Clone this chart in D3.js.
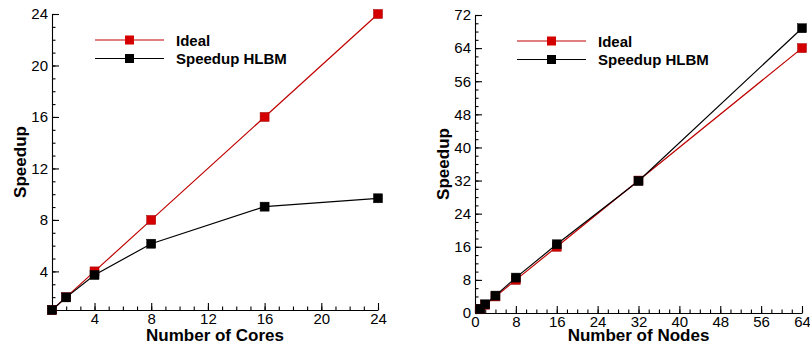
<!DOCTYPE html>
<html>
<head>
<meta charset="utf-8">
<script src="https://cdn.jsdelivr.net/npm/d3@7"></script>
<style>
  body { margin: 0; background: #fff; }
  svg { display: block; }
  .tick text { font-family: "Liberation Sans", Arial, sans-serif; font-size: 15px; fill: #000; }
  .title { font-family: "Liberation Sans", Arial, sans-serif; font-weight: bold; font-size: 17px; fill: #000; }
  .leg { font-family: "Liberation Sans", Arial, sans-serif; font-weight: bold; font-size: 15px; fill: #000; }
</style>
</head>
<body>
<svg id="viz" width="810" height="347"></svg>
<script>
// left panel: cores
let cores = [1, 2, 4, 8, 16, 24];
let cores_ideal = [1, 2, 4, 8, 16, 24];
let cores_hlbm = [1, 1.98, 3.72, 6.15, 9.03, 9.68];
let cores_ticks = [4, 8, 12, 16, 20, 24];

// right panel: nodes
let nodes = [1, 2, 4, 8, 16, 32, 64];
let nodes_ideal = [1, 2, 4, 8, 16, 32, 64];
let nodes_hlbm = [1, 2.1, 4.2, 8.55, 16.6, 31.9, 68.8];
let nodes_xticks = [0, 8, 16, 24, 32, 40, 48, 56, 64];
let nodes_yticks = [0, 8, 16, 24, 32, 40, 48, 56, 64, 72];

let series_names = ['Ideal', 'Speedup HLBM'];
let line_col = ['#c00000', '#000000'];
let mark_col = ['#d40000', '#000000'];

const svg = d3.select('#viz');

function panel(cfg) {
    const x = d3.scaleLinear().domain(cfg.xdom).range(cfg.xr);
    const y = d3.scaleLinear().domain(cfg.ydom).range(cfg.yr);
    const g = svg.append('g');

    // minor ticks
    g.append('g')
        .attr('transform', 'translate(0,' + cfg.yr[0] + ')')
        .call(d3.axisBottom(x).tickValues(d3.range(cfg.xdom[0], cfg.xdom[1] + 0.001, cfg.xminor)).tickSize(-3.5).tickFormat(''))
        .call(a => a.select('.domain').remove());
    g.append('g')
        .attr('transform', 'translate(' + cfg.xr[0] + ',0)')
        .call(d3.axisLeft(y).tickValues(d3.range(cfg.ydom[0], cfg.ydom[1] + 0.001, cfg.yminor)).tickSize(-3.5).tickFormat(''))
        .call(a => a.select('.domain').remove());

    // major axes
    g.append('g')
        .attr('transform', 'translate(0,' + cfg.yr[0] + ')')
        .call(d3.axisBottom(x).tickValues(cfg.xticks).tickSizeInner(-7).tickSizeOuter(0).tickPadding(3))
        .call(a => a.selectAll('.tick text').attr('y', 3));
    g.append('g')
        .attr('transform', 'translate(' + cfg.xr[0] + ',0)')
        .call(d3.axisLeft(y).tickValues(cfg.yticks).tickSizeInner(-7).tickSizeOuter(0).tickPadding(4))
        .call(a => a.selectAll('.tick text').attr('x', -4));
    g.selectAll('.domain, .tick line').attr('stroke', '#000').attr('stroke-width', 1.1);

    // lines and markers
    const line = d3.line().x(d => x(d[0])).y(d => y(d[1]));
    cfg.series.forEach(function (vals, i) {
        const pts = cfg.xs.map((v, j) => [v, vals[j]]);
        g.append('path')
            .attr('d', line(pts))
            .attr('fill', 'none')
            .attr('stroke', line_col[i])
            .attr('stroke-width', 1.2);
        g.selectAll('rect.s' + i)
            .data(pts)
            .join('rect')
            .attr('x', d => x(d[0]) - 4.5)
            .attr('y', d => y(d[1]) - 4.5)
            .attr('width', 9)
            .attr('height', 9)
            .attr('fill', mark_col[i])
            .attr('stroke', i === 0 ? '#a00000' : '#000')
            .attr('stroke-width', 0.5);
    });

    // legend
    series_names.forEach(function (nm, i) {
        const ly = cfg.leg[1] + i * 18.5;
        g.append('line')
            .attr('x1', cfg.leg[0]).attr('x2', cfg.leg[0] + 69)
            .attr('y1', ly).attr('y2', ly)
            .attr('stroke', line_col[i]).attr('stroke-width', 1.2);
        g.append('rect')
            .attr('x', cfg.leg[0] + 34.5 - 4.5).attr('y', ly - 4.5)
            .attr('width', 9).attr('height', 9)
            .attr('fill', mark_col[i]);
        g.append('text')
            .attr('class', 'leg')
            .attr('x', cfg.leg[0] + 81)
            .attr('y', ly + 5.5)
            .text(nm);
    });

    // titles
    g.append('text')
        .attr('class', 'title')
        .attr('x', (cfg.xr[0] + cfg.xr[1]) / 2)
        .attr('y', 341)
        .attr('text-anchor', 'middle')
        .text(cfg.xlabel);
    g.append('text')
        .attr('class', 'title')
        .attr('transform', 'translate(' + cfg.ylx + ',' + (cfg.yr[0] + cfg.yr[1]) / 2 + ') rotate(-90)')
        .attr('text-anchor', 'middle')
        .text('Speedup');
}

panel({
    xdom: [1, 24], xr: [52, 378],
    ydom: [1, 24], yr: [310, 14],
    xticks: cores_ticks, yticks: cores_ticks,
    xminor: 1, yminor: 1,
    xs: cores, series: [cores_ideal, cores_hlbm],
    leg: [95, 40],
    xlabel: 'Number of Cores', ylx: 26
});

panel({
    xdom: [0, 64], xr: [475, 802],
    ydom: [0, 72], yr: [313, 15],
    xticks: nodes_xticks, yticks: nodes_yticks,
    xminor: 2, yminor: 2,
    xs: nodes, series: [nodes_ideal, nodes_hlbm],
    leg: [517, 41],
    xlabel: 'Number of Nodes', ylx: 449
});
</script>
</body>
</html>
